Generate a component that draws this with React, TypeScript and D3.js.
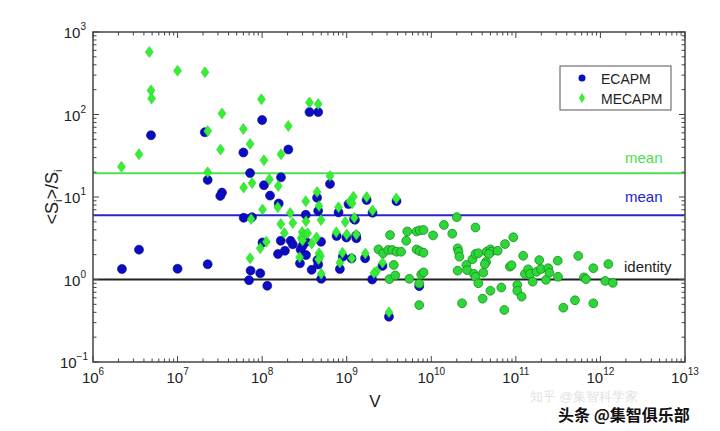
import React from 'react';
import * as d3 from 'd3';

// ECAPM (blue circles): [V, <S_i>/S_i]
const ecapm: [number, number][] = [
  [2.2e6, 1.34], [3.5e6, 2.3], [4.85e6, 56], [1.0e7, 1.35], [2.1e7, 61], [2.27e7, 16.1],
  [2.27e7, 1.53], [3.35e7, 11.3], [3.2e7, 10.3], [6.0e7, 34.6], [7.2e7, 19.5], [1.05e8, 13.9],
  [1.24e8, 10.4], [1.0e8, 85.7], [1.67e8, 17.3], [2.04e8, 37.6], [3.63e8, 107], [4.6e8, 107],
  [6.34e8, 14.4], [4.46e8, 9.8], [1.57e8, 8.34], [3.28e8, 6.1], [4.6e8, 6.8], [8.0e8, 6.5],
  [1.05e9, 8.2], [1.72e9, 9.2], [6.05e7, 5.6], [7.58e7, 5.7], [1.01e8, 2.81], [1.66e8, 2.95],
  [2.17e8, 2.94], [2.3e8, 2.67], [3.3e8, 2.87], [3.13e8, 2.75], [3.0e8, 2.55], [2.85e8, 2.31],
  [4.97e8, 2.87], [1.86e8, 2.23], [1.54e8, 2.04], [3.3e8, 1.98], [2.8e8, 1.57], [3.85e8, 1.31],
  [4.5e8, 1.72], [4.6e8, 1.52], [5.0e8, 1.02], [7.3e7, 1.28], [9.5e7, 1.19], [7.0e7, 0.98],
  [1.15e8, 0.84], [7.6e8, 3.37], [9.9e8, 3.23], [1.29e9, 3.4], [9.0e8, 1.89], [8.3e8, 1.34],
  [1.25e9, 5.3], [1.14e9, 1.8], [1.3e9, 3.16], [1.65e9, 1.81], [2.65e9, 1.46], [2.0e9, 1.0],
  [2.02e9, 6.45], [1.22e9, 5.4], [3.88e9, 8.9], [7.2e9, 0.83], [3.16e9, 0.354],
];

// MECAPM (green diamonds)
const mecapm: [number, number][] = [
  [2.17e6, 23.3], [3.5e6, 33], [4.63e6, 573], [4.85e6, 196], [4.93e6, 156], [1.0e7, 340],
  [2.11e7, 325], [2.27e7, 63], [2.27e7, 19.9], [3.35e7, 103], [3.22e7, 37.6], [6.0e7, 66.7],
  [7.2e7, 44], [9.8e7, 153], [1.05e8, 27.9], [7.6e7, 14.8], [6.05e7, 13.0], [1.22e8, 16.3],
  [1.55e8, 13.6], [1.67e8, 33], [2.04e8, 72.6], [3.63e8, 140], [4.6e8, 134], [6.34e8, 18],
  [4.46e8, 11.5], [3.28e8, 8.9], [1.53e8, 7.5], [1.01e8, 7.05], [2.15e8, 6.4], [4.7e8, 7.8],
  [8.0e8, 7.5], [1.09e9, 8.8], [1.2e9, 10.1], [1.72e9, 10.0], [3.86e9, 9.6], [2.02e9, 6.85],
  [7.4e7, 5.4], [1.66e8, 4.7], [2.3e8, 4.84], [3.3e8, 5.1], [4.97e8, 5.26], [9.6e8, 4.98],
  [1.23e9, 5.6], [1.83e8, 3.66], [2.97e8, 3.76], [3.2e8, 3.46], [3.45e8, 3.63], [2.9e8, 3.18],
  [3.0e8, 2.97], [7.53e8, 3.73], [1.0e9, 3.5], [1.3e9, 3.5], [1.12e8, 2.87], [3.86e8, 2.74],
  [4.4e8, 3.23], [9.5e7, 2.39], [4.7e8, 2.08], [4.9e8, 1.93], [4.65e8, 1.76], [2.78e8, 1.86],
  [7.2e7, 1.81], [8.9e8, 2.11], [1.15e9, 1.81], [8.3e8, 1.6], [5.0e8, 1.17], [1.66e9, 2.07],
  [2.65e9, 1.6], [2.25e9, 1.25], [2.1e9, 1.2], [3.16e9, 0.4], [1.16e9, 8.4],
];

// Both models coincide (green circles)
const both: [number, number][] = [
  [3.25e9, 3.46], [2.37e9, 2.32], [2.69e9, 2.08], [3.1e9, 2.28], [3.45e9, 2.28], [3.88e9, 2.17],
  [4.4e9, 2.17], [3.6e9, 1.5], [3.2e9, 1.01], [3.75e9, 1.12], [5.5e9, 1.02], [5.05e9, 2.95],
  [5.2e9, 3.82], [6.7e9, 3.82], [7.3e9, 3.95], [8.1e9, 3.98], [1.05e10, 3.42], [1.41e10, 4.58],
  [1.77e10, 3.59], [2.0e10, 5.7], [6.7e9, 2.31], [7.3e9, 2.21], [8.1e9, 2.11], [7.6e9, 1.15],
  [8.1e9, 1.22], [7.2e9, 0.89], [7.2e9, 0.49], [2.05e10, 2.39], [2.1e10, 2.17], [2.15e10, 1.89],
  [2.05e10, 1.28], [2.31e10, 0.515], [2.6e10, 1.5], [2.65e10, 1.3], [3.07e10, 1.76], [3.2e10, 1.17],
  [3.33e10, 1.08], [3.33e10, 4.27], [3.33e10, 2.04], [3.6e10, 2.08], [3.6e10, 0.9], [4.12e10, 1.21],
  [4.45e10, 1.64], [4.3e10, 1.54], [4.5e10, 2.17], [5.0e10, 2.32], [5.1e10, 2.17], [4.8e10, 2.04],
  [6.1e10, 2.23], [7.44e10, 2.69], [9.33e10, 3.25], [4.05e10, 0.585], [5.0e10, 0.73], [6.73e10, 0.8],
  [7.3e10, 0.427], [8.5e10, 1.43], [8.9e10, 1.49], [1.04e11, 0.86], [1.04e11, 0.73], [1.17e11, 0.62],
  [1.22e11, 1.94], [1.28e11, 1.17], [1.4e11, 1.33], [1.47e11, 1.17], [1.58e11, 0.94], [1.76e11, 1.24],
  [1.89e11, 1.72], [1.98e11, 1.34], [2.27e11, 0.99], [2.42e11, 1.37], [2.49e11, 1.21], [3.13e11, 1.69],
  [3.15e11, 1.08], [3.64e11, 0.455], [5.0e11, 0.56], [5.47e11, 1.93], [6.39e11, 1.06], [6.75e11, 1.01],
  [8.24e11, 1.37], [8.24e11, 0.515], [1.14e12, 0.96], [1.24e12, 1.54], [1.4e12, 0.91],
];

const refLines = [
  { value: 19.4, label: 'mean', color: '#4ee04e' },
  { value: 6.0, label: 'mean', color: '#2424d0' },
  { value: 1, label: 'identity', color: '#222222' },
];

const xExps = [6, 7, 8, 9, 10, 11, 12, 13];
const yExps = [-1, 0, 1, 2, 3];
const legendItems = ['ECAPM', 'MECAPM'];

const W = 720, H = 431;
const X0 = 93, X1 = 685, Y0 = 32, Y1 = 362;
const FONT = '"Liberation Sans", Arial, Helvetica, sans-serif';

export default function App() {
  const x = d3.scaleLog().domain([1e6, 1e13]).range([X0, X1]);
  const y = d3.scaleLog().domain([1e-1, 1e3]).range([Y1, Y0]);

  const minorX: number[] = [];
  for (let e = 6; e < 13; e++) for (let k = 2; k <= 9; k++) minorX.push(k * Math.pow(10, e));
  const minorY: number[] = [];
  for (let e = -1; e < 3; e++) for (let k = 2; k <= 9; k++) minorY.push(k * Math.pow(10, e));

  const diamond = (cx: number, cy: number) =>
    `M${cx},${cy - 5.5}L${cx + 4},${cy}L${cx},${cy + 5.5}L${cx - 4},${cy}Z`;

  const sup = (e: number) => (e < 0 ? '\u2212' + Math.abs(e) : String(e));

  return (
    <svg width={W} height={H} style={{ position: 'absolute', left: 0, top: 0, background: '#fff' }} fontFamily={FONT}>
      <rect x={0} y={0} width={W} height={H} fill="#fff" />
      {/* reference lines */}
      {refLines.map((r, i) => (
        <line key={i} x1={X0} x2={X1} y1={y(r.value)} y2={y(r.value)} stroke={r.color} strokeWidth={2} />
      ))}
      {/* points */}
      {ecapm.map((d, i) => (
        <circle key={'e' + i} cx={x(d[0])} cy={y(d[1])} r={4.5} fill="#0b0bc4" stroke="#06068a" strokeWidth={0.6} />
      ))}
      {mecapm.map((d, i) => (
        <path key={'m' + i} d={diamond(x(d[0]), y(d[1]))} fill="#35ee35" stroke="#22cc22" strokeWidth={0.5} />
      ))}
      {both.map((d, i) => (
        <circle key={'b' + i} cx={x(d[0])} cy={y(d[1])} r={4.4} fill="#2fd63a" stroke="#138f1c" strokeWidth={0.8} />
      ))}
      {/* ref labels */}
      <text x={625} y={163} fill="#4ee04e" fontSize={15}>{refLines[0].label}</text>
      <text x={625} y={202} fill="#2424d0" fontSize={15}>{refLines[1].label}</text>
      <text x={624} y={272} fill="#222" fontSize={15}>{refLines[2].label}</text>
      {/* frame */}
      <rect x={X0} y={Y0} width={X1 - X0} height={Y1 - Y0} fill="none" stroke="#444" strokeWidth={1.5} />
      {/* ticks */}
      {xExps.map((e) => {
        const px = x(Math.pow(10, e));
        return (
          <g key={'xt' + e}>
            <line x1={px} x2={px} y1={Y1} y2={Y1 - 6} stroke="#444" />
            <line x1={px} x2={px} y1={Y0} y2={Y0 + 6} stroke="#444" />
            <text x={px} y={383} textAnchor="middle" fontSize={15} fill="#222">
              10<tspan dy={-8} fontSize={10}>{sup(e)}</tspan>
            </text>
          </g>
        );
      })}
      {minorX.map((v, i) => {
        const px = x(v);
        return (
          <g key={'xm' + i}>
            <line x1={px} x2={px} y1={Y1} y2={Y1 - 3.5} stroke="#444" />
            <line x1={px} x2={px} y1={Y0} y2={Y0 + 3.5} stroke="#444" />
          </g>
        );
      })}
      {yExps.map((e) => {
        const py = y(Math.pow(10, e));
        return (
          <g key={'yt' + e}>
            <line x1={X0} x2={X0 + 6} y1={py} y2={py} stroke="#444" />
            <line x1={X1} x2={X1 - 6} y1={py} y2={py} stroke="#444" />
            <text x={e < 0 ? 88 : 86} y={py + 6} textAnchor="end" fontSize={15} fill="#222">
              10<tspan dy={-8} fontSize={10}>{sup(e)}</tspan>
            </text>
          </g>
        );
      })}
      {minorY.map((v, i) => {
        const py = y(v);
        return (
          <g key={'ym' + i}>
            <line x1={X0} x2={X0 + 3.5} y1={py} y2={py} stroke="#444" />
            <line x1={X1} x2={X1 - 3.5} y1={py} y2={py} stroke="#444" />
          </g>
        );
      })}
      {/* axis titles */}
      <text x={375} y={407} textAnchor="middle" fontSize={17} fill="#222">V</text>
      <text transform={`translate(58,${(Y0 + Y1) / 2}) rotate(-90)`} textAnchor="middle" fontSize={18} fill="#222">
        {'<S'}<tspan dy={4} fontSize={11}>i</tspan><tspan dy={-4}>{'>/S'}</tspan><tspan dy={4} fontSize={11}>i</tspan>
      </text>
      {/* legend */}
      <rect x={560} y={66} width={111} height={44} fill="#fff" stroke="#555" strokeWidth={1} />
      <circle cx={582} cy={78} r={3.5} fill="#0b0bc4" />
      <path d={`M582,93L585,98L582,103L579,98Z`} fill="#35ee35" />
      <text x={601} y={84} fontSize={14} fill="#222">{legendItems[0]}</text>
      <text x={601} y={104} fontSize={14} fill="#222">{legendItems[1]}</text>
      {/* watermarks */}
      <text x={530} y={401} fontSize={13} fill="#e2e2e2">知乎 @集智科学家</text>
      <text x={558} y={421} fontSize={16} fill="#111" stroke="#fff" strokeWidth={3} paintOrder="stroke"
        fontFamily='"Noto Sans CJK SC", sans-serif' fontWeight="bold">头条 @集智俱乐部</text>
    </svg>
  );
}
